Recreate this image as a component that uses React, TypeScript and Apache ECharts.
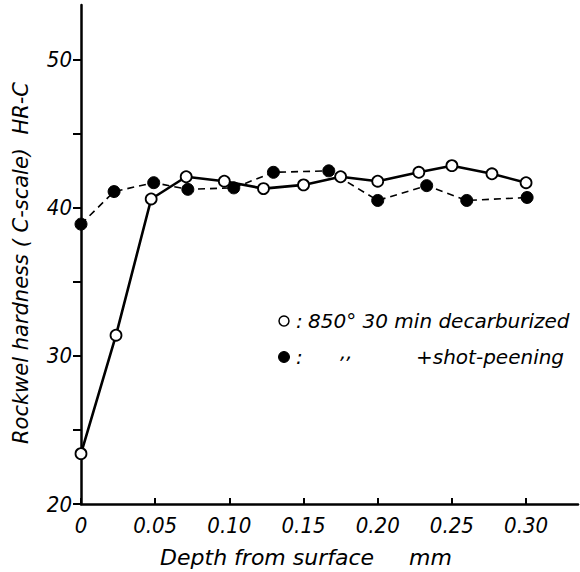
import React, { useEffect, useRef } from "react";
import * as echarts from "echarts";

const depthOpen = [0, 0.0236, 0.0473, 0.0709, 0.0966, 0.123, 0.15, 0.175, 0.2, 0.2277, 0.25, 0.277, 0.3];
const hardOpen = [23.4, 31.4, 40.6, 42.1, 41.8, 41.3, 41.55, 42.1, 41.8, 42.4, 42.85, 42.3, 41.7];
const depthFilled = [0, 0.0223, 0.049, 0.072, 0.103, 0.1297, 0.167, 0.2, 0.233, 0.26, 0.3007];
const hardFilled = [38.9, 41.1, 41.7, 41.25, 41.35, 42.4, 42.5, 40.5, 41.5, 40.5, 40.7];
const xTicks = [0, 0.05, 0.1, 0.15, 0.2, 0.25, 0.3];
const yTicks = [20, 25, 30, 35, 40, 45, 50];
const yLabels = [20, 30, 40, 50];

const NARROW = "'DejaVu Sans Condensed', 'Liberation Sans', sans-serif";
const WIDE = "'DejaVu Sans', sans-serif";

export default function App() {
  const ref = useRef<HTMLDivElement>(null);
  useEffect(() => {
    document.body.style.margin = "0";
    const chart = echarts.init(ref.current!, null, { renderer: "svg" });
    const txt = (x: number, y: number, text: string, size = 20, extra: any = {}) => ({
      type: "text",
      x,
      y,
      style: {
        text,
        font: `italic ${size}px ${WIDE}`,
        fill: "#000",
        textVerticalAlign: "middle",
        ...extra,
      },
    });
    chart.setOption({
      animation: false,
      backgroundColor: "#fff",
      grid: { left: 81, right: 2, top: 5, bottom: 68 },
      xAxis: {
        type: "value",
        min: 0,
        max: 0.335,
        interval: 0.05,
        splitLine: { show: false },
        axisLine: { lineStyle: { color: "#000", width: 2.5 } },
        axisTick: { inside: true, length: 6, customValues: xTicks, lineStyle: { color: "#000", width: 2 } },
        axisLabel: {
          customValues: xTicks,
          margin: 10,
          color: "#000",
          fontSize: 22,
          fontStyle: "italic",
          fontFamily: NARROW,
          formatter: (v: number) => (v === 0 ? "0" : v.toFixed(2)),
        },
      },
      yAxis: {
        type: "value",
        min: 20,
        max: 53.7,
        interval: 5,
        splitLine: { show: false },
        axisLine: { lineStyle: { color: "#000", width: 2.5 } },
        axisTick: { inside: false, length: 8, customValues: yTicks, lineStyle: { color: "#000", width: 2 } },
        axisLabel: {
          customValues: yLabels,
          margin: 9,
          color: "#000",
          fontSize: 22,
          fontStyle: "italic",
          fontFamily: NARROW,
        },
      },
      series: [
        {
          type: "line",
          data: depthFilled.map((d, i) => [d, hardFilled[i]]),
          symbol: "circle",
          symbolSize: 12,
          lineStyle: { color: "#000", width: 1.6, type: [7, 5] },
          itemStyle: { color: "#000", borderColor: "#000", borderWidth: 1 },
          z: 2,
        },
        {
          type: "line",
          data: depthOpen.map((d, i) => [d, hardOpen[i]]),
          symbol: "circle",
          symbolSize: 11,
          lineStyle: { color: "#000", width: 2.6 },
          itemStyle: { color: "#fff", borderColor: "#000", borderWidth: 1.8 },
          z: 3,
        },
      ],
      graphic: [
        { type: "circle", shape: { cx: 284, cy: 321, r: 5 }, style: { fill: "#fff", stroke: "#000", lineWidth: 1.5 } },
        txt(296, 321, ":"),
        txt(308, 321, "850° 30 min decarburized"),
        { type: "circle", shape: { cx: 284, cy: 357, r: 5.5 }, style: { fill: "#000", stroke: "#000", lineWidth: 1 } },
        txt(296, 357, ":"),
        txt(340, 352, ",,"),
        txt(416, 357, "+shot-peening"),
        txt(306, 557, "Depth from surface     mm", 22, { textAlign: "center" }),
        {
          type: "text",
          x: 21,
          y: 263,
          rotation: Math.PI / 2,
          style: {
            text: "Rockwel hardness ( C-scale)  HR-C",
            font: `italic 21px ${WIDE}`,
            fill: "#000",
            textAlign: "center",
            textVerticalAlign: "middle",
          },
        },
      ],
    });
    return () => chart.dispose();
  }, []);
  return <div ref={ref} style={{ position: "fixed", left: 0, top: 0, width: 580, height: 572 }} />;
}
